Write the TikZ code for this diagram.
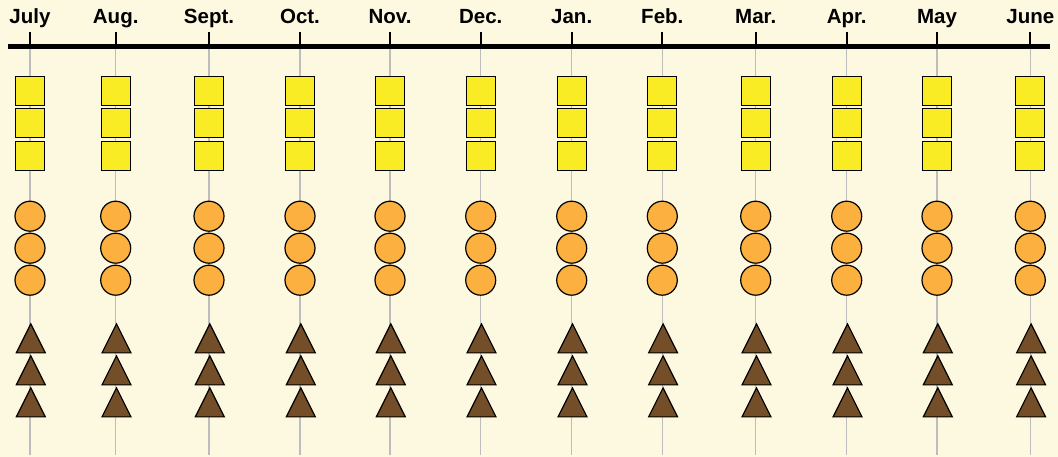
\documentclass[tikz,border=0pt]{standalone}
\usepackage{fontspec}
\setmainfont{Liberation Sans}
\usetikzlibrary{shapes.geometric}
\definecolor{bg}{HTML}{FDF8E0}
\definecolor{sqfill}{HTML}{F9EB24}
\definecolor{cifill}{HTML}{FBB040}
\definecolor{trfill}{HTML}{734E29}
\definecolor{guide}{HTML}{BDBDBD}
\tikzset{
  sqbox/.style={rectangle, draw=black, line width=1.2pt, fill=sqfill, minimum size=29pt, inner sep=0pt},
  cibox/.style={circle, draw=black, line width=1.2pt, fill=cifill, minimum size=30pt, inner sep=0pt},
  trbox/.style={isosceles triangle, isosceles triangle stretches, shape border rotate=90, draw=black, line width=1.2pt, fill=trfill, minimum width=29pt, minimum height=29pt, inner sep=0pt, anchor=south},
  guideline/.style={draw=guide, line width=1.4pt},
  tickline/.style={draw=black, line width=2pt},
  axisline/.style={draw=black, line width=5.5pt},
  monthlabel/.style={anchor=base, inner sep=0pt, font=\fontsize{20.5}{24}\selectfont\bfseries}
}
\begin{document}
\begin{tikzpicture}[x=1pt,y=-1pt]
\fill[bg] (0,0) rectangle (1058,457);
\useasboundingbox (0,0) rectangle (1058,457);
\foreach \x/\m [count=\i] in {30/July,115.7/Aug.,209/Sept.,300/Oct.,390/Nov.,480.7/Dec.,571.7/Jan.,662.3/Feb.,755.7/Mar.,846.7/Apr.,937/May,1030.3/June} {
  \coordinate (top\i) at (\x,32);
  \coordinate (ax\i) at (\x,46.7);
  \coordinate (bot\i) at (\x,455);
  \draw[guideline] (ax\i) -- (bot\i);
  \draw[tickline] (top\i) -- (ax\i);
  \node[monthlabel] (lab\i) at (\x,24) {\m};
  \node[sqbox] (sqa\i) at (\x,90.7) {};
  \node[sqbox] (sqb\i) at (\x,123.4) {};
  \node[sqbox] (sqc\i) at (\x,156.3) {};
  \node[cibox] (cia\i) at (\x,216.2) {};
  \node[cibox] (cib\i) at (\x,248.2) {};
  \node[cibox] (cic\i) at (\x,280.2) {};
  \node[trbox] (tra\i) at (\x+0.8,353.5) {};
  \node[trbox] (trb\i) at (\x+0.8,385.5) {};
  \node[trbox] (trc\i) at (\x+0.8,417.5) {};
}
\coordinate (axL) at (7.5,46.7);
\coordinate (axR) at (1050,46.7);
\draw[axisline] (axL) -- (axR);
\end{tikzpicture}
\end{document}
